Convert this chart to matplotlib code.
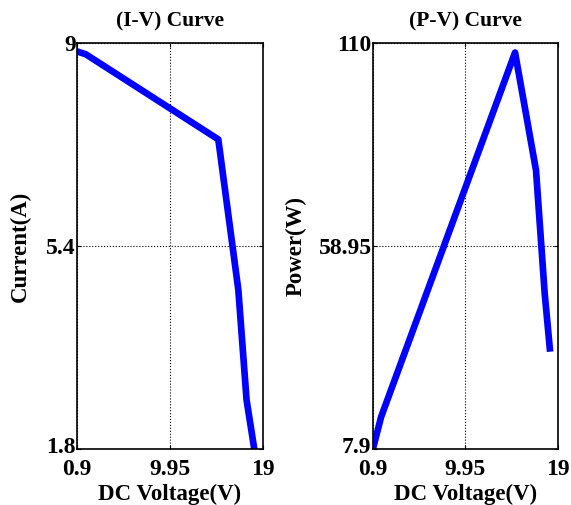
import matplotlib
matplotlib.use("Agg")
import matplotlib.pyplot as plt
import matplotlib.transforms as mtransforms

# Data
voltage_iv = [0.9, 1.75, 14.65, 16.6, 17.4, 18.15]
current = [8.85, 8.80, 7.29, 4.62, 2.67, 1.80]
voltage_pv = [0.9, 1.7, 14.8, 16.85, 17.7, 18.2]
power = [8.0, 16.0, 107.6, 78.0, 47.0, 33.2]

iv_xticks = [0.9, 9.95, 19]
iv_xticklabels = ["0.9", "9.95", "19"]
iv_yticks = [1.8, 5.4, 9]
iv_yticklabels = ["1.8", "5.4", "9"]
pv_yticks = [7.9, 58.95, 110]
pv_yticklabels = ["7.9", "58.95", "110"]

plt.rcParams['font.family'] = ['Liberation Serif', 'DejaVu Serif']
plt.rcParams['font.weight'] = 'bold'

fig = plt.figure(figsize=(5.71, 5.05), dpi=100)
ax1 = fig.add_axes([0.1349, 0.1109, 0.3257, 0.804])
ax2 = fig.add_axes([0.6532, 0.1109, 0.324, 0.804])

def style(ax, xt, xtl, yt, ytl, title, ylabel, ylab_x):
    ax.set_xlim(xt[0], xt[-1])
    ax.set_ylim(yt[0], yt[-1])
    ax.set_xticks(xt)
    ax.set_xticklabels(xtl, fontsize=17, fontweight='bold')
    ax.set_yticks(yt)
    ax.set_yticklabels(ytl, fontsize=17, fontweight='bold')
    ax.tick_params(direction='in', length=3, width=0.8, top=True, right=True)
    ax.tick_params(axis='y', pad=1)
    ax.tick_params(axis='x', pad=7)
    ax.grid(True, color='black', linestyle=':', linewidth=0.8)
    for s in ax.spines.values():
        s.set_linewidth(1.2)
    ax.set_title(title, fontsize=15.5, fontweight='bold', y=1.02)
    ax.set_xlabel("DC Voltage(V)", fontsize=16.5, fontweight='bold')
    ax.set_ylabel(ylabel, fontsize=16.5, fontweight='bold')
    ax.xaxis.set_label_coords(0.5, -0.085)
    ax.yaxis.set_label_coords(ylab_x, 0.5)
    # nudge the bottom y tick label up a little so it sits just above the x label
    lbl = ax.get_yticklabels()[0]
    lbl.set_transform(lbl.get_transform() +
                      mtransforms.ScaledTranslation(0, 3 / 72, fig.dpi_scale_trans))

ax1.plot(voltage_iv, current, color='#0000FF', linewidth=4.8)
style(ax1, iv_xticks, iv_xticklabels, iv_yticks, iv_yticklabels,
      "(I-V) Curve", "Current(A)", -0.25)

ax2.plot(voltage_pv, power, color='#0000FF', linewidth=4.8)
style(ax2, iv_xticks, iv_xticklabels, pv_yticks, pv_yticklabels,
      "(P-V) Curve", "Power(W)", -0.36)

fig.savefig("out.png", dpi=100)
